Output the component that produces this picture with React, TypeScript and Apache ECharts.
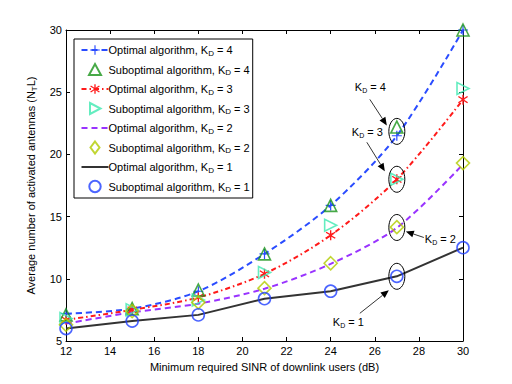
import React, { useEffect, useRef } from "react";
import * as echarts from "echarts";

const sinr = [12, 15, 18, 21, 24, 27, 30];
const optK4 = [7.2, 7.6, 9.0, 12.0, 15.9, 21.5, 30.0];
const subK4 = [7.1, 7.6, 9.1, 12.0, 15.9, 22.2, 30.0];
const optK3 = [6.7, 7.5, 8.5, 10.4, 13.5, 18.0, 24.4];
const subK3 = [6.8, 7.5, 8.3, 10.5, 14.3, 18.0, 25.3];
const optK2 = [6.4, 7.3, 8.0, 9.2, 11.2, 14.1, 19.2];
const subK2 = [6.3, 7.4, 8.1, 9.25, 11.25, 14.15, 19.3];
const optK1 = [6.0, 6.6, 7.1, 8.4, 9.0, 10.2, 12.5];
const subK1 = [6.0, 6.6, 7.1, 8.4, 9.0, 10.2, 12.5];

const seriesNames = [
  "Optimal algorithm, K_D = 4",
  "Suboptimal algorithm, K_D = 4",
  "Optimal algorithm, K_D = 3",
  "Suboptimal algorithm, K_D = 3",
  "Optimal algorithm, K_D = 2",
  "Suboptimal algorithm, K_D = 2",
  "Optimal algorithm, K_D = 1",
  "Suboptimal algorithm, K_D = 1",
];
const annotLabels = ["4", "3", "2", "1"];

const FONT = "'Liberation Sans', Arial, Helvetica, sans-serif";
const PLUS = "path://M4.4,0H5.6V4.4H10V5.6H5.6V10H4.4V5.6H0V4.4H4.4Z";
const STAR =
  "path://M4.4,0H5.6V3.6L8.7,1.4L9.4,2.4L6.3,4.6V5.4L9.4,7.6L8.7,8.6L5.6,6.4V10H4.4V6.4L1.3,8.6L0.6,7.6L3.7,5.4V4.6L0.6,2.4L1.3,1.4L4.4,3.6Z";
// legend icons framed in the 27x12 legend icon box
const ICON_UP = "path://M0,0M27,12M7.5,11.5L13.5,0.5L19.5,11.5Z";
const ICON_RIGHT = "path://M0,0M27,12M8.5,0.5L19,6L8.5,11.5Z";
const ICON_DIAMOND = "path://M0,0M27,12M13.5,0L18,6L13.5,12L9,6Z";
const ICON_CIRCLE =
  "path://M0,0M27,12M19.2,6A5.7,5.7,0,1,1,7.8,6A5.7,5.7,0,1,1,19.2,6Z";

const pair = (ys: number[]) => sinr.map((x, i) => [x, ys[i]]);
const subRich = {
  sub: { fontSize: 8, fontFamily: FONT, verticalAlign: "bottom", lineHeight: 14, padding: [4, 0, 0, 0] },
};
const subRichY = {
  sub: { fontSize: 8, fontFamily: FONT, verticalAlign: "bottom", lineHeight: 16, padding: [5, 0, 0, 0] },
};

export default function App() {
  const ref = useRef<HTMLDivElement>(null);
  useEffect(() => {
    const chart = echarts.init(ref.current!, undefined, { renderer: "svg" });
    const hollow = (c: string) => ({ color: "none", borderColor: c, borderWidth: 1.6 });
    const icons: Record<number, string> = { 1: ICON_UP, 3: ICON_RIGHT, 5: ICON_DIAMOND, 7: ICON_CIRCLE };
    const legendData = seriesNames.map((n, i) => {
      if (i === 4 || i === 6) return { name: n, itemStyle: { opacity: 0 } };
      if (icons[i]) return { name: n, icon: icons[i], symbolRotate: 0 };
      return { name: n };
    });
    const option: any = {
      animation: false,
      backgroundColor: "#ffffff",
      textStyle: { fontFamily: FONT },
      grid: { left: 66, right: 49, top: 30, bottom: 43 },
      legend: {
        orient: "vertical",
        left: 74,
        top: 39,
        padding: [4, 3, 3, 5],
        itemWidth: 27,
        itemHeight: 12,
        itemGap: 4,
        backgroundColor: "#ffffff",
        borderColor: "#000000",
        borderWidth: 1,
        data: legendData,
        formatter: (n: string) => n.replace("K_D", "K{sub|D}"),
        textStyle: {
          fontSize: 11, fontFamily: FONT, color: "#000", lineHeight: 14,
          padding: [0, 0, 0, -5], rich: subRich,
        },
      },
      xAxis: [
        {
          type: "value", min: 12, max: 30, interval: 2,
          name: "Minimum required SINR of downlink users (dB)",
          nameLocation: "middle", nameGap: 20,
          nameTextStyle: { fontSize: 11, color: "#000", fontFamily: FONT },
          axisLine: { lineStyle: { color: "#000", width: 1 } },
          axisTick: { inside: true, length: 4, lineStyle: { color: "#000" } },
          axisLabel: { fontSize: 11, color: "#000", margin: 4, fontFamily: FONT },
          splitLine: { show: false },
        },
        {
          type: "value", min: 12, max: 30, interval: 2, position: "top",
          axisLine: { lineStyle: { color: "#000", width: 1 } },
          axisTick: { inside: true, length: 4, lineStyle: { color: "#000" } },
          axisLabel: { show: false }, splitLine: { show: false },
        },
      ],
      yAxis: [
        {
          type: "value", min: 5, max: 30, interval: 5,
          name: "Average number of activated antennas (N{sub|T}L)",
          nameLocation: "middle", nameGap: 16,
          nameTextStyle: { fontSize: 11, color: "#000", fontFamily: FONT, rich: subRichY },
          axisLine: { lineStyle: { color: "#000", width: 1 } },
          axisTick: { inside: true, length: 4, lineStyle: { color: "#000" } },
          axisLabel: { fontSize: 11, color: "#000", margin: 4, fontFamily: FONT },
          splitLine: { show: false },
        },
        {
          type: "value", min: 5, max: 30, interval: 5, position: "right",
          axisLine: { show: true, lineStyle: { color: "#000", width: 1 } },
          axisTick: { show: true, inside: true, length: 4, lineStyle: { color: "#000" } },
          axisLabel: { show: false }, splitLine: { show: false },
        },
      ],
      series: [
        {
          name: seriesNames[0], type: "line", data: pair(optK4), smooth: 0.3,
          symbol: PLUS, symbolSize: 10, itemStyle: { color: "#2a4cff" },
          lineStyle: { color: "#2a4cff", width: 2, type: [6, 4] }, z: 3,
        },
        {
          name: seriesNames[1], type: "scatter", data: pair(subK4), symbolKeepAspect: true,
          symbol: "triangle", symbolSize: 12, itemStyle: hollow("#199419"), z: 4,
        },
        {
          name: seriesNames[2], type: "line", data: pair(optK3), smooth: 0.3,
          symbol: STAR, symbolSize: 10, itemStyle: { color: "#ff1a1a" },
          lineStyle: { color: "#ff1a1a", width: 2, type: [5, 3, 1.5, 3] }, z: 3,
        },
        {
          name: seriesNames[3], type: "scatter", data: pair(subK3), symbolKeepAspect: true,
          symbol: "triangle", symbolRotate: -90, symbolSize: 12, itemStyle: hollow("#3de8b0"), z: 4,
        },
        {
          name: seriesNames[4], type: "line", data: pair(optK2), smooth: 0.3,
          symbol: "circle", showSymbol: false, itemStyle: { color: "#9933ff" },
          lineStyle: { color: "#9933ff", width: 2, type: [6, 4] }, z: 3,
        },
        {
          name: seriesNames[5], type: "scatter", data: pair(subK2), symbolKeepAspect: true,
          symbol: "diamond", symbolSize: 13, itemStyle: hollow("#b2cc00"), z: 4,
        },
        {
          name: seriesNames[6], type: "line", data: pair(optK1),
          symbol: "circle", showSymbol: false, itemStyle: { color: "#333333" },
          lineStyle: { color: "#333333", width: 2 }, z: 3,
        },
        {
          name: seriesNames[7], type: "scatter", data: pair(subK1), symbolKeepAspect: true,
          symbol: "circle", symbolSize: 12, itemStyle: hollow("#1f3fff"), z: 4,
        },
      ],
    };
    chart.setOption(option);

    // annotations anchored to data at SINR = 27 dB
    const idx = sinr.indexOf(27);
    const centers = [
      (optK4[idx] + subK4[idx]) / 2,
      (optK3[idx] + subK3[idx]) / 2,
      (optK2[idx] + subK2[idx]) / 2,
      (optK1[idx] + subK1[idx]) / 2,
    ];
    const layout = [
      { tx: -42, ty: -44, a: [-27, -32, -10, -6] },
      { tx: -45, ty: -47, a: [-30, -37, -12, -8] },
      { tx: 28, ty: 12, a: [27, 10, 9, 4] },
      { tx: -64, ty: 46, a: [-37, 37, -8, 14] },
    ];
    const graphics: any[] = [];
    centers.forEach((cy, i) => {
      const p = chart.convertToPixel({ xAxisIndex: 0, yAxisIndex: 0 }, [27, cy]) as number[];
      const [x, y] = p;
      graphics.push({
        type: "ellipse", shape: { cx: x, cy: y, rx: 8, ry: 13 },
        style: { fill: "none", stroke: "#000", lineWidth: 1 }, z: 10,
      });
      const L = layout[i];
      graphics.push({
        type: "text", x: x + L.tx, y: y + L.ty, z: 10,
        style: {
          text: `K{sub|D} = ${annotLabels[i]}`, fontSize: 11, fontFamily: FONT, fill: "#000",
          verticalAlign: "middle", lineHeight: 14,
          rich: { sub: { ...subRich.sub, fontSize: 7, fill: "#000" } },
        },
      });
      const x1 = x + L.a[0], y1 = y + L.a[1], x2 = x + L.a[2], y2 = y + L.a[3];
      const ang = Math.atan2(y2 - y1, x2 - x1);
      const hl = 8, hw = 3.5;
      const bx = x2 - hl * Math.cos(ang), by = y2 - hl * Math.sin(ang);
      graphics.push({
        type: "line", shape: { x1, y1, x2: bx, y2: by },
        style: { stroke: "#000", lineWidth: 0.8 }, z: 10,
      });
      graphics.push({
        type: "polygon", z: 10,
        shape: {
          points: [
            [x2, y2],
            [bx + hw * Math.sin(ang), by - hw * Math.cos(ang)],
            [bx - hw * Math.sin(ang), by + hw * Math.cos(ang)],
          ],
        },
        style: { fill: "#000" },
      });
    });
    chart.setOption({ graphic: graphics });
    return () => chart.dispose();
  }, []);
  return (
    <div
      ref={ref}
      style={{ position: "fixed", left: 0, top: 0, width: 512, height: 384, background: "#fff" }}
    />
  );
}
